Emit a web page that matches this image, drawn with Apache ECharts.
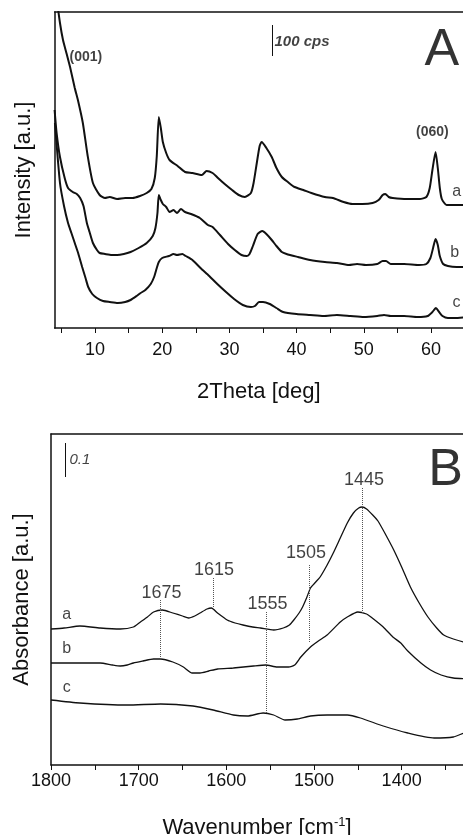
<!DOCTYPE html>
<html>
<head>
<meta charset="utf-8">
<script src="https://cdn.jsdelivr.net/npm/echarts@6/dist/echarts.min.js"></script>
<style>
  html, body { margin: 0; padding: 0; background: #fff; }
  #chart { width: 463px; height: 835px; }
</style>
</head>
<body>
<div id="chart"></div>
<script>
// ---- Panel A: XRD, [2Theta deg, intensity a.u.] ----
const xrdA = [[4.3,330],[4.8,305],[5.25,288],[5.8,274],[6.3,261],[7.0,240],[7.5,227],[8.2,205],[8.9,173],[9.7,145],[10.7,133],[11.5,130],[12.2,131],[13.3,129],[14.5,130],[15.6,130],[16.7,132],[17.7,135],[18.4,139],[18.9,150],[19.2,172],[19.5,211],[19.8,200],[20.1,186],[20.6,175],[21.1,168],[22.3,162],[23.4,156],[24.5,155],[25.9,153],[26.6,157],[27.5,155],[28.3,150],[29.3,144],[30.4,138],[31.4,133],[32.3,131],[33.2,135],[33.6,145],[34.1,166],[34.5,182],[34.8,186],[35.5,180],[36.3,171],[37.0,160],[37.8,151],[38.7,146],[39.7,141],[41.0,138],[42.2,135],[44.2,131],[45.4,130],[47.0,126],[48.3,124],[49.8,124],[51.3,125],[52.2,128],[52.8,133],[53.2,134],[53.7,131],[54.3,130],[56.4,129],[58.3,129],[59.3,131],[59.8,140],[60.2,158],[60.67,176],[61.0,160],[61.3,140],[61.6,129],[62.3,123],[63.5,123],[65.5,123]];
const xrdB = [[4.0,218],[4.3,195],[4.8,171],[5.5,150],[6.0,140],[6.7,136],[7.3,134],[7.8,130],[8.3,122],[8.8,105],[9.2,96],[9.7,85],[10.3,78],[10.7,75],[11.5,74],[12.5,73],[13.3,73],[14.3,74],[15.3,76],[16.5,80],[17.7,85],[18.6,92],[19.0,100],[19.3,115],[19.5,133],[19.8,128],[20.1,124],[20.6,121],[21.1,116],[21.7,118],[22.2,115],[22.8,119],[23.4,116],[24.3,114],[25.6,110],[26.8,103],[27.5,101],[28.6,93],[29.8,84],[30.8,78],[31.8,73],[32.6,72],[33.0,74],[33.5,82],[34.2,94],[34.9,97],[35.5,94],[36.3,88],[37.0,82],[37.8,76],[38.5,74],[40.2,71],[42.0,68],[44.2,66],[46.0,65],[47.8,63],[49.0,64],[50.3,63],[52.0,64],[52.8,67],[53.3,67],[54.0,64],[56.0,64],[58.2,63],[59.3,64],[59.9,70],[60.3,80],[60.67,89],[61.0,83],[61.3,72],[61.8,64],[62.5,62],[63.8,61],[65.5,61]];
const xrdC = [[4.05,205],[4.8,145],[5.4,122],[6.0,105],[6.5,95],[7.0,85],[7.5,75],[8.1,61],[8.6,50],[9.0,41],[9.6,34],[10.3,30],[11.2,27],[12.2,26],[13.4,25],[14.5,26],[15.3,28],[16.2,32],[16.8,35],[17.5,38],[18.3,44],[18.8,51],[19.2,60],[19.5,66],[20.0,70],[21.0,72],[21.7,74],[22.2,73],[23.0,74],[23.5,72],[24.5,68],[25.7,60],[27.0,52],[28.2,44],[29.5,36],[30.7,29],[32.0,23],[33.2,21],[33.8,22],[34.4,26],[35.0,26],[36.0,24],[37.0,20],[38.0,16],[40.0,14],[42.0,13],[44.0,12],[46.0,13],[48.0,12],[50.0,11],[52.0,12],[53.0,13],[54.0,12],[56.0,12],[58.0,11],[59.5,12],[60.2,16],[60.7,20],[61.2,16],[61.7,12],[62.5,10],[63.5,10],[65.5,11]];
const xrdTicks = [5,10,15,20,25,30,35,40,45,50,55,60];
const xrdTickLabels = [10,20,30,40,50,60];

// ---- Panel B: IR, [wavenumber cm-1, absorbance a.u.] ----
const irA = [[1800,136],[1785,137],[1767,139],[1744,137],[1721,136],[1706,138],[1698,143],[1690,148],[1683,153],[1673,155],[1661,152],[1650,149],[1643,147],[1636,149],[1630,152],[1622,156],[1617,157],[1610,152],[1599,145],[1590,142],[1581,140],[1570,138],[1561,137],[1546,135],[1535,137],[1528,140],[1523,145],[1517,152],[1513,158],[1508,168],[1504,177],[1498,183],[1493,188],[1485,200],[1478,212],[1470,227],[1462,242],[1455,252],[1449,257],[1445,258],[1440,256],[1433,250],[1427,244],[1418,230],[1409,215],[1400,198],[1390,178],[1380,162],[1370,148],[1360,137],[1352,130],[1341,126],[1329,123],[1320,122]];
const irB = [[1800,102],[1767,102],[1744,102],[1730,100],[1721,99],[1713,100],[1706,102],[1695,104],[1683,106],[1675,106],[1661,103],[1649,98],[1639,92],[1630,92],[1620,94],[1610,96],[1592,97],[1569,99],[1555,100],[1542,98],[1529,98],[1522,100],[1515,108],[1504,118],[1495,124],[1485,130],[1470,143],[1462,148],[1450,153],[1440,151],[1435,148],[1421,138],[1410,128],[1401,122],[1393,114],[1378,102],[1367,95],[1355,90],[1341,87],[1320,86]];
const irC = [[1800,65],[1767,62],[1713,60],[1675,61],[1638,59],[1615,55],[1592,50],[1576,49],[1558,52],[1546,50],[1533,45],[1519,46],[1504,49],[1485,50],[1462,50],[1447,47],[1421,39],[1393,32],[1363,27],[1341,28],[1329,32],[1320,34]];
const irTicks = [1800,1750,1700,1650,1600,1550,1500,1450,1400,1350];
const irTickLabels = [1800,1700,1600,1500,1400];

// peak markers: [wavenumber, from, to]
const irPeakLines = [[1675,108,165],[1615,158,187],[1555,52,153],[1505,123,200],[1445,152,278]];
// text annotations: [x, y, text]
const irPeakLabels = [[1674,172,'1675'],[1614,195,'1615'],[1553,161,'1555'],[1509,212,'1505'],[1443,285,'1445']];
const xrdReflexes = [[8.66,271,'(001)'],[60.2,196,'(060)']];
const xrdCurveNames = [[63.8,136,'a'],[63.5,75,'b'],[63.8,25,'c']];
const irCurveNames = [[1782,150,'a'],[1782,116,'b'],[1782,77,'c']];
const xrdScaleBar = [36.45, 272, 303, 40.8, 286, '100 cps'];
const irScaleBar = [1784, 288, 322, 1767, 305, '0.1'];

const FONT = '"Liberation Sans", Arial, sans-serif';
const chart = echarts.init(document.getElementById('chart'));

function curve(data, idx, width) {
  return {
    type: 'line', xAxisIndex: idx, yAxisIndex: idx, data: data,
    showSymbol: false, smooth: 0.2, clip: true, silent: true,
    lineStyle: { color: '#111', width: width }
  };
}

function texts(idx, items, style) {
  return {
    type: 'scatter', xAxisIndex: idx, yAxisIndex: idx, silent: true,
    symbolSize: 1, itemStyle: { color: 'rgba(0,0,0,0)' }, z: 5,
    label: Object.assign({ show: true, position: 'inside', color: '#111', fontFamily: FONT }, style),
    data: items.map(t => ({ value: [t[0], t[1]], label: { formatter: t[2] } }))
  };
}

function segs(idx, list, type, color) {
  return {
    type: 'line', xAxisIndex: idx, yAxisIndex: idx, data: [], silent: true,
    markLine: {
      silent: true, symbol: ['none', 'none'], animation: false,
      label: { show: false },
      lineStyle: { type: type, color: color, width: 1 },
      emphasis: { disabled: true },
      data: list.map(s => [{ coord: [s[0], s[1]] }, { coord: [s[0], s[2]] }])
    }
  };
}

const axisName = { fontFamily: FONT, fontSize: 22, color: '#111' };
const frameLine = { show: true, lineStyle: { color: '#111', width: 1.5 } };
const noText = { axisTick: { show: false }, axisLabel: { show: false }, splitLine: { show: false } };

const option = {
  animation: false,
  backgroundColor: '#fff',
  grid: [
    { left: 54.6, top: 12, right: 0, height: 316, outerBoundsMode: 'none', containLabel: false },
    { left: 51, top: 434, right: 0, height: 331, outerBoundsMode: 'none', containLabel: false }
  ],
  xAxis: [
    {
      gridIndex: 0, type: 'value', min: 4, max: 64.75,
      name: '2Theta [deg]', nameLocation: 'middle', nameGap: 53, nameTextStyle: axisName,
      axisLine: frameLine,
      axisTick: { show: true, length: 5, customValues: xrdTicks, lineStyle: { color: '#111' } },
      axisLabel: { customValues: xrdTickLabels, margin: 13, fontFamily: FONT, fontSize: 18, color: '#111', formatter: v => String(v) },
      splitLine: { show: false }
    },
    {
      gridIndex: 1, type: 'value', min: 1330, max: 1800, inverse: true,
      name: 'Wavenumber [cm{sup|-1}]', nameLocation: 'middle', nameGap: 51,
      nameTextStyle: Object.assign({}, axisName, { rich: { sup: { fontFamily: FONT, fontSize: 13, verticalAlign: 'top', padding: [0, 0, 10, 0], color: '#111' } } }),
      axisLine: frameLine,
      axisTick: { show: true, length: 5, customValues: irTicks, lineStyle: { color: '#111' } },
      axisLabel: { customValues: irTickLabels, margin: 7, fontFamily: FONT, fontSize: 18, color: '#111', formatter: v => String(v) },
      splitLine: { show: false }
    },
    Object.assign({ gridIndex: 0, type: 'value', position: 'top', min: 4, max: 64.75, axisLine: frameLine }, noText),
    Object.assign({ gridIndex: 1, type: 'value', position: 'top', min: 1330, max: 1800, inverse: true, axisLine: frameLine }, noText)
  ],
  yAxis: [
    Object.assign({
      gridIndex: 0, type: 'value', min: 0, max: 316,
      name: 'Intensity [a.u.]', nameLocation: 'middle', nameGap: 20, nameTextStyle: axisName,
      axisLine: frameLine
    }, noText),
    Object.assign({
      gridIndex: 1, type: 'value', min: 0, max: 331,
      name: 'Absorbance [a.u.]', nameLocation: 'middle', nameGap: 18, nameTextStyle: axisName,
      axisLine: frameLine
    }, noText)
  ],
  series: [
    curve(xrdA, 0, 2),
    curve(xrdB, 0, 2),
    curve(xrdC, 0, 2),
    curve(irA, 1, 1.3),
    curve(irB, 1, 1.3),
    curve(irC, 1, 1.3),
    segs(1, irPeakLines, 'dotted', '#555'),
    segs(0, [xrdScaleBar], 'solid', '#111'),
    segs(1, [irScaleBar], 'solid', '#111'),
    texts(0, xrdReflexes, { fontSize: 14, fontWeight: 'bold' }),
    texts(0, [[xrdScaleBar[3], xrdScaleBar[4], xrdScaleBar[5]]], { fontSize: 15, fontWeight: 'bold', fontStyle: 'italic' }),
    texts(0, xrdCurveNames, { fontSize: 16 }),
    texts(0, [[61.6, 277, 'A']], { fontSize: 52, color: '#000' }),
    texts(1, irPeakLabels, { fontSize: 18 }),
    texts(1, [[irScaleBar[3], irScaleBar[4], irScaleBar[5]]], { fontSize: 15, fontStyle: 'italic' }),
    texts(1, irCurveNames, { fontSize: 16 }),
    texts(1, [[1350, 294, 'B']], { fontSize: 52, color: '#000' })
  ]
};

chart.setOption(option);
</script>
</body>
</html>
